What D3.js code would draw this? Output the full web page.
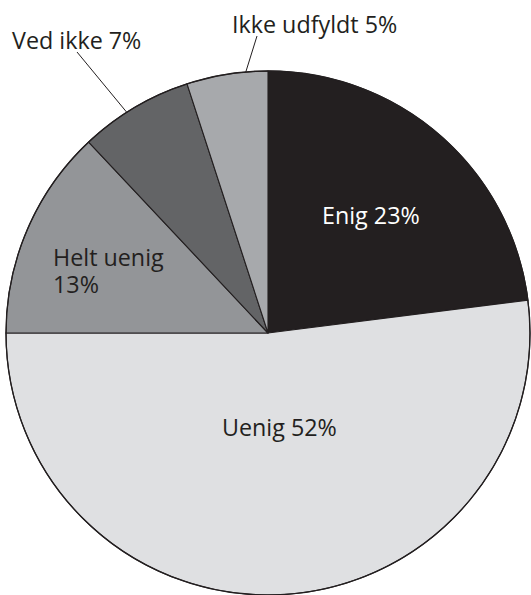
<!DOCTYPE html>
<html>
<head>
<meta charset="utf-8">
<script src="https://cdn.jsdelivr.net/npm/d3@7"></script>
<style>
  html, body { margin: 0; padding: 0; background: #fff; }
  svg { display: block; }
  text { font-family: "Open Sans", "Noto Sans", sans-serif; }
</style>
</head>
<body>
<svg id="chart" width="531" height="595"></svg>
<script>
// ---- data ----
const categories = ["Enig", "Uenig", "Helt uenig", "Ved ikke", "Ikke udfyldt"];
const values = [23, 52, 13, 7, 5];
const labelLines = [["Enig 23%"], ["Uenig 52%"], ["Helt uenig", "13%"], ["Ved ikke 7%"], ["Ikke udfyldt 5%"]];
const colors = ["#231f20", "#dfe0e2", "#939598", "#636466", "#a7a9ac"];
const textColors = ["#ffffff", "#231f20", "#231f20", "#231f20", "#231f20"];

// ---- layout ----
const cx = 268, cy = 333, R = 262;
const fontSize = 23.3;

const svg = d3.select("#chart");
const g = svg.append("g").attr("transform", `translate(${cx},${cy})`);

const pie = d3.pie().sort(null).value(d => d.value).startAngle(0).endAngle(2 * Math.PI);
const data = categories.map((c, i) => ({ name: c, value: values[i], i }));
const arcs = pie(data);
const arc = d3.arc().innerRadius(0).outerRadius(R);

g.selectAll("path.slice")
  .data(arcs)
  .enter().append("path")
  .attr("class", "slice")
  .attr("d", arc)
  .attr("fill", d => colors[d.data.i])
  .attr("stroke", "#231f20")
  .attr("stroke-width", 1.1)
  .attr("stroke-linejoin", "round");

// outer rim
g.append("circle").attr("r", R).attr("fill", "none").attr("stroke", "#231f20").attr("stroke-width", 1.3);

const labelSpec = [
  { mode: "in", x: 322, y: 224, anchor: "start" },
  { mode: "in", x: 222, y: 436, anchor: "start" },
  { mode: "in", x: 53, y: 266, anchor: "start", lh: 27 },
  { mode: "out", x: 12, y: 49, anchor: "start", frac: 0.42, lx: 77, ly: 52 },
  { mode: "out", x: 232, y: 33, anchor: "start", frac: 0.73, lx: 257, ly: 36 }
];

arcs.forEach((a, k) => {
  const s = labelSpec[k];
  const t = svg.append("text")
    .attr("x", s.x).attr("y", s.y)
    .attr("text-anchor", s.anchor)
    .attr("font-size", fontSize)
    .attr("fill", textColors[k]);
  labelLines[k].forEach((ln, j) => {
    t.append("tspan").attr("x", s.x).attr("dy", j === 0 ? 0 : (s.lh || 27)).text(ln);
  });
  if (s.mode === "out") {
    const ang = a.startAngle + s.frac * (a.endAngle - a.startAngle);
    const ex = cx + R * Math.sin(ang);
    const ey = cy - R * Math.cos(ang);
    svg.append("line")
      .attr("x1", s.lx).attr("y1", s.ly)
      .attr("x2", ex).attr("y2", ey)
      .attr("stroke", "#231f20").attr("stroke-width", 1);
  }
});
</script>
</body>
</html>
